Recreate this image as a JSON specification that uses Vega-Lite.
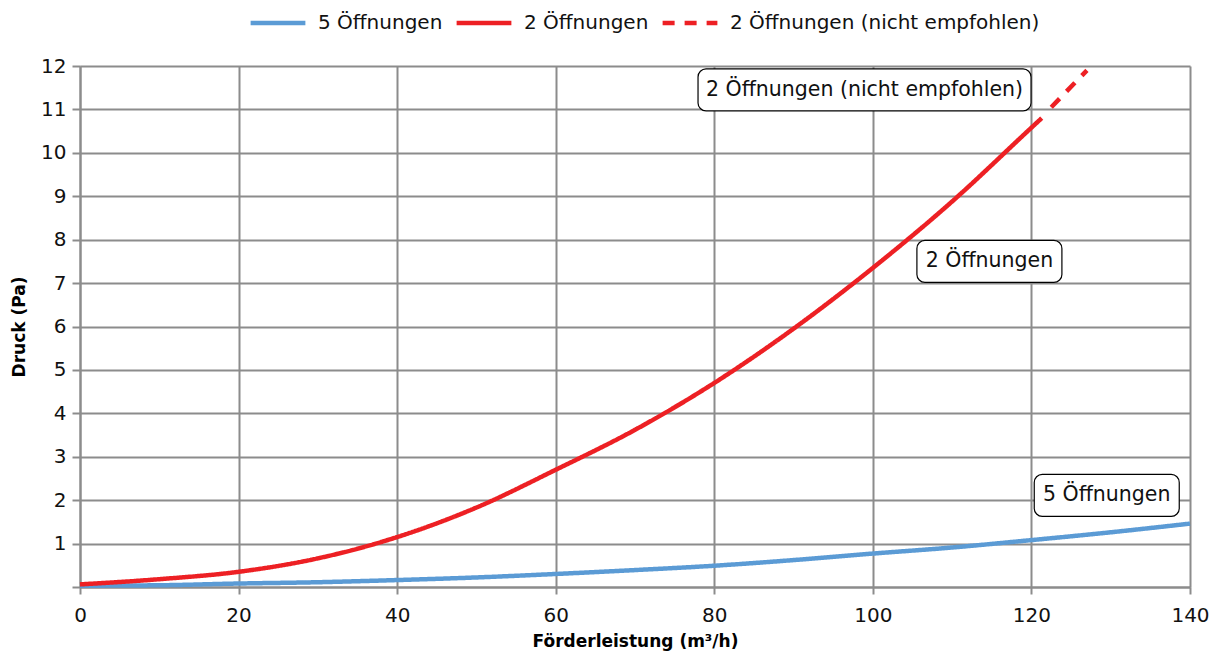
{
  "$schema": "https://vega.github.io/schema/vega-lite/v6.json",
  "width": 1110,
  "height": 521,
  "autosize": "none",
  "padding": {"left": 80, "top": 66, "right": 29, "bottom": 68},
  "background": "white",
  "config": {
    "font": "DejaVu Sans",
    "view": {"stroke": null},
    "axis": {
      "grid": true,
      "gridColor": "#8c8c8c",
      "gridWidth": 2,
      "domainColor": "#8c8c8c",
      "domainWidth": 2,
      "tickColor": "#8c8c8c",
      "tickWidth": 2,
      "labelFontSize": 20,
      "labelColor": "#111111",
      "labelFont": "DejaVu Sans",
      "labelFlush": false,
      "labelOverlap": false,
      "titleFontSize": 17,
      "titleFontWeight": "bold",
      "titleColor": "#000000",
      "titleFont": "DejaVu Sans"
    }
  },
  "datasets": {
    "curves": [
      {"q": 0, "p": 0.03, "serie": "5 Öffnungen"},
      {"q": 10, "p": 0.04, "serie": "5 Öffnungen"},
      {"q": 20, "p": 0.08, "serie": "5 Öffnungen"},
      {"q": 30, "p": 0.11, "serie": "5 Öffnungen"},
      {"q": 40, "p": 0.16, "serie": "5 Öffnungen"},
      {"q": 50, "p": 0.22, "serie": "5 Öffnungen"},
      {"q": 60, "p": 0.30, "serie": "5 Öffnungen"},
      {"q": 70, "p": 0.39, "serie": "5 Öffnungen"},
      {"q": 80, "p": 0.49, "serie": "5 Öffnungen"},
      {"q": 90, "p": 0.62, "serie": "5 Öffnungen"},
      {"q": 100, "p": 0.77, "serie": "5 Öffnungen"},
      {"q": 110, "p": 0.91, "serie": "5 Öffnungen"},
      {"q": 120, "p": 1.08, "serie": "5 Öffnungen"},
      {"q": 130, "p": 1.26, "serie": "5 Öffnungen"},
      {"q": 140, "p": 1.46, "serie": "5 Öffnungen"},
      {"q": 0, "p": 0.06, "serie": "2 Öffnungen"},
      {"q": 10, "p": 0.18, "serie": "2 Öffnungen"},
      {"q": 20, "p": 0.35, "serie": "2 Öffnungen"},
      {"q": 30, "p": 0.66, "serie": "2 Öffnungen"},
      {"q": 40, "p": 1.15, "serie": "2 Öffnungen"},
      {"q": 50, "p": 1.83, "serie": "2 Öffnungen"},
      {"q": 60, "p": 2.70, "serie": "2 Öffnungen"},
      {"q": 70, "p": 3.62, "serie": "2 Öffnungen"},
      {"q": 80, "p": 4.70, "serie": "2 Öffnungen"},
      {"q": 90, "p": 5.95, "serie": "2 Öffnungen"},
      {"q": 100, "p": 7.35, "serie": "2 Öffnungen"},
      {"q": 110, "p": 8.88, "serie": "2 Öffnungen"},
      {"q": 120, "p": 10.58, "serie": "2 Öffnungen"},
      {"q": 121.3, "p": 10.8, "serie": "2 Öffnungen"},
      {"q": 122.5, "p": 11.05, "serie": "2 Öffnungen (nicht empfohlen)"},
      {"q": 127, "p": 11.9, "serie": "2 Öffnungen (nicht empfohlen)"}
    ],
    "labels": [
      {"label": "2 Öffnungen (nicht empfohlen)", "q": 98.95, "p": 11.45},
      {"label": "2 Öffnungen", "q": 114.7, "p": 7.5},
      {"label": "5 Öffnungen", "q": 129.5, "p": 2.11}
    ]
  },
  "layer": [
    {
      "data": {"name": "curves"},
      "mark": {"type": "line", "strokeWidth": 4.5, "interpolate": "monotone"},
      "encoding": {
        "x": {
          "field": "q", "type": "quantitative",
          "scale": {"domain": [0, 140], "nice": false},
          "axis": {"values": [0, 20, 40, 60, 80, 100, 120, 140], "title": "Förderleistung (m³/h)", "tickSize": 7, "labelPadding": 11, "titlePadding": 8}
        },
        "y": {
          "field": "p", "type": "quantitative",
          "scale": {"domain": [0, 12], "nice": false},
          "axis": {"values": [0, 1, 2, 3, 4, 5, 6, 7, 8, 9, 10, 11, 12], "labelExpr": "datum.value == 0 ? '' : datum.label", "title": "Druck (Pa)", "tickSize": 8, "labelPadding": 6, "titlePadding": 12}
        },
        "color": {
          "field": "serie", "type": "nominal",
          "scale": {"domain": ["5 Öffnungen", "2 Öffnungen", "2 Öffnungen (nicht empfohlen)"], "range": ["#5b9bd5", "#ed2024", "#ed2024"]},
          "legend": {
            "title": null, "orient": "none", "legendX": 168, "legendY": -73, "direction": "horizontal",
            "symbolType": "stroke", "symbolSize": 3000, "symbolStrokeWidth": 4.5,
            "labelFontSize": 20, "labelColor": "#111111", "labelFont": "DejaVu Sans", "columnPadding": 4, "labelOffset": 10, "labelLimit": 400
          }
        },
        "strokeDash": {
          "field": "serie", "type": "nominal",
          "scale": {"domain": ["5 Öffnungen", "2 Öffnungen", "2 Öffnungen (nicht empfohlen)"], "range": [[1, 0], [1, 0], [12, 10]]},
          "legend": {
            "title": null, "orient": "none", "legendX": 168, "legendY": -73, "direction": "horizontal",
            "symbolType": "stroke", "symbolSize": 3000, "symbolStrokeWidth": 4.5,
            "labelFontSize": 20, "labelColor": "#111111", "labelFont": "DejaVu Sans", "columnPadding": 4, "labelOffset": 10, "labelLimit": 400
          }
        }
      }
    },
    {
      "data": {"name": "labels"},
      "transform": [{"filter": "datum.label == '2 Öffnungen (nicht empfohlen)'"}],
      "mark": {"type": "rect", "width": 333, "height": 42, "fill": "white", "stroke": "#000000", "strokeWidth": 1.2, "cornerRadius": 8},
      "encoding": {
        "x": {"field": "q", "type": "quantitative"},
        "y": {"field": "p", "type": "quantitative"}
      }
    },
    {
      "data": {"name": "labels"},
      "transform": [{"filter": "datum.label != '2 Öffnungen (nicht empfohlen)'"}],
      "mark": {"type": "rect", "width": 145, "height": 42, "fill": "white", "stroke": "#000000", "strokeWidth": 1.2, "cornerRadius": 8},
      "encoding": {
        "x": {"field": "q", "type": "quantitative"},
        "y": {"field": "p", "type": "quantitative"}
      }
    },
    {
      "data": {"name": "labels"},
      "mark": {"type": "text", "fontSize": 20.5, "font": "DejaVu Sans", "color": "#111111", "align": "center", "baseline": "middle"},
      "encoding": {
        "x": {"field": "q", "type": "quantitative"},
        "y": {"field": "p", "type": "quantitative"},
        "text": {"field": "label"}
      }
    }
  ]
}
